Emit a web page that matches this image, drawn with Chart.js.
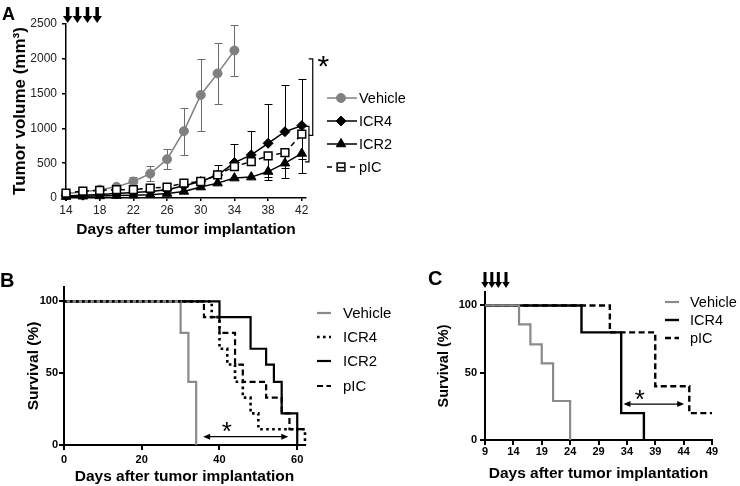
<!DOCTYPE html>
<html>
<head>
<meta charset="utf-8">
<script src="https://cdn.jsdelivr.net/npm/chart.js@4.4.0/dist/chart.umd.min.js"></script>
<style>
  html, body { margin: 0; padding: 0; background: #fff; }
  body { width: 740px; height: 486px; position: relative; overflow: hidden; }
  canvas { position: absolute; }
  #chartA { left: 0; top: 0; width: 420px; height: 240px; }
  #chartB { left: 0; top: 250px; width: 420px; height: 236px; }
  #chartC { left: 420px; top: 250px; width: 320px; height: 236px; }
</style>
</head>
<body>
<canvas id="chartA" width="420" height="240"></canvas>
<canvas id="chartB" width="420" height="236"></canvas>
<canvas id="chartC" width="320" height="236"></canvas>
<script>
// ---- panel A: tumour volume ----
const daysA = [14, 16, 18, 20, 22, 24, 26, 28, 30, 32, 34, 36, 38, 40, 42];
const dayTicksA = [14, 18, 22, 26, 30, 34, 38, 42];
const volTicksA = [0, 500, 1000, 1500, 2000, 2500];
const vehicleVol = [60, 90, 120, 160, 237, 350, 557, 960, 1480, 1790, 2120];
const vehicleSD = [10, 15, 20, 20, 70, 110, 145, 340, 520, 440, 370];
const icr4Vol = [30, 40, 50, 65, 80, 95, 119, 176, 237, 330, 509, 619, 786, 952, 1040];
const icr4Upper = [null, null, null, null, null, null, null, null, 270, 470, 780, 960, 1350, 1620, 1710];
const icr2Vol = [20, 25, 30, 35, 40, 45, 64, 95, 157, 214, 286, 300, 380, 500, 640];
const icr2Lower = [null, null, null, null, null, null, null, null, null, null, null, null, 261, 290, 357];
const picVol = [70, 100, 110, 120, 120, 140, 157, 214, 237, 333, 452, 524, 604, 652, 918];
const picLower = [null, null, null, null, null, null, null, null, null, null, null, null, 300, 430, 560];
const dosingA = [14.2, 15.35, 16.55, 17.7];

// ---- panel B: survival ----
const dayTicksB = [0, 20, 40, 60];
const survTicks = [0, 50, 100];
const vehicleTimesB = [0, 30, 32, 34];
const vehicleSurvB = [100, 78, 44, 0];
const icr4TimesB = [0, 38, 40, 42, 44, 46, 48, 50, 62];
const icr4SurvB = [100, 89, 67, 56, 44, 33, 22, 11, 0];
const icr2TimesB = [0, 40, 48, 52, 54, 56, 60];
const icr2SurvB = [100, 89, 67, 56, 44, 22, 0];
const picTimesB = [0, 36, 40, 44, 46, 52, 56, 58, 62];
const picSurvB = [100, 89, 78, 56, 44, 33, 22, 11, 11];

// ---- panel C: survival ----
const dayTicksC = [9, 14, 19, 24, 29, 34, 39, 44, 49];
const vehicleTimesC = [9, 15, 17, 19, 21, 24];
const vehicleSurvC = [100, 86, 71, 57, 29, 0];
const icr4TimesC = [9, 26, 33, 37];
const icr4SurvC = [100, 80, 20, 0];
const picTimesC = [9, 31, 39, 45, 49];
const picSurvC = [100, 80, 40, 20, 20];
const dosingC = [9, 10.2, 11.35, 12.7];

const FONT = '"Liberation Sans", Arial, sans-serif';
const GREY = '#8a8a8a';
Chart.defaults.font.family = FONT;
Chart.defaults.color = '#000';
Chart.defaults.animation = false;

const fixWidth = w => scale => { scale.width = w; };
const fixHeight = h => scale => { scale.height = h; };
const useTicks = values => scale => { scale.ticks = values.map(v => ({ value: v })); };
const plain = v => String(v);
const points = (xs, ys) => ys.map((y, i) => ({ x: xs[i], y: y }));

function downArrow(ctx, x, top, tip, shaftW, headW, headH) {
    ctx.fillRect(x - shaftW / 2, top, shaftW, tip - headH - top + 0.5);
    ctx.beginPath();
    ctx.moveTo(x - headW / 2, tip - headH);
    ctx.lineTo(x + headW / 2, tip - headH);
    ctx.lineTo(x, tip);
    ctx.closePath();
    ctx.fill();
}

function doubleArrow(ctx, x1, x2, y) {
    const len = 7, half = 3;
    ctx.lineWidth = 1.3;
    ctx.beginPath();
    ctx.moveTo(x1 + 3, y);
    ctx.lineTo(x2 - 3, y);
    ctx.stroke();
    ctx.beginPath();
    ctx.moveTo(x1, y); ctx.lineTo(x1 + len, y - half); ctx.lineTo(x1 + len, y + half); ctx.closePath();
    ctx.moveTo(x2, y); ctx.lineTo(x2 - len, y - half); ctx.lineTo(x2 - len, y + half); ctx.closePath();
    ctx.fill();
}

function star(ctx, x, y, size) {
    ctx.font = size + 'px ' + FONT;
    ctx.textAlign = 'center';
    ctx.textBaseline = 'alphabetic';
    const m = ctx.measureText('*');
    ctx.fillText('*', x, y + (m.actualBoundingBoxAscent - m.actualBoundingBoxDescent) / 2);
}

function letter(ctx, text, x, y, size) {
    ctx.font = 'bold ' + size + 'px ' + FONT;
    ctx.textAlign = 'left';
    ctx.textBaseline = 'alphabetic';
    ctx.fillText(text, x, y);
}

function drawLegend(ctx, items, cfg) {
    items.forEach((it, i) => {
        const y = cfg.ys[i];
        ctx.save();
        ctx.strokeStyle = it.color;
        ctx.lineWidth = it.width;
        ctx.setLineDash(it.dash || []);
        ctx.beginPath();
        ctx.moveTo(cfg.x0, y);
        ctx.lineTo(cfg.x1, y);
        ctx.stroke();
        ctx.setLineDash([]);
        if (it.marker) {
            const mx = (cfg.x0 + cfg.x1) / 2 - 1;
            ctx.fillStyle = it.fill;
            ctx.strokeStyle = it.color;
            ctx.lineWidth = it.bw;
            Chart.helpers.drawPoint(ctx, { pointStyle: it.marker, radius: it.radius, rotation: 0, borderWidth: it.bw }, mx, y);
            if (it.marker === 'rect') {
                ctx.beginPath();
                ctx.moveTo(mx - 3, y + 0.5);
                ctx.lineTo(mx + 3, y + 0.5);
                ctx.stroke();
            }
        }
        ctx.fillStyle = '#000';
        ctx.font = cfg.font;
        ctx.textAlign = 'left';
        ctx.textBaseline = 'middle';
        ctx.fillText(it.label, cfg.tx, y + 1);
        ctx.restore();
    });
}

// error bars drawn under the markers
const errorBars = {
    id: 'errorBars',
    beforeDatasetsDraw(chart) {
        const ctx = chart.ctx;
        const yScale = chart.scales.y;
        chart.data.datasets.forEach((ds, i) => {
            if (!ds.errHigh && !ds.errLow) return;
            const meta = chart.getDatasetMeta(i);
            ctx.save();
            ctx.strokeStyle = ds.errColor;
            ctx.lineWidth = 1;
            meta.data.forEach((pt, j) => {
                [ds.errHigh, ds.errLow].forEach(arr => {
                    if (!arr || arr[j] == null) return;
                    const x = Math.round(pt.x) + 0.5;
                    const yy = Math.round(yScale.getPixelForValue(arr[j])) + 0.5;
                    ctx.beginPath();
                    ctx.moveTo(x, pt.y);
                    ctx.lineTo(x, yy);
                    ctx.moveTo(x - 4, yy);
                    ctx.lineTo(x + 4, yy);
                    ctx.stroke();
                });
            });
            ctx.restore();
        });
    }
};

function axisStyle(tickLen, borderW) {
    return {
        grid: { drawOnChartArea: false, drawTicks: true, tickLength: tickLen, color: '#000', lineWidth: borderW },
        border: { display: true, color: '#000', width: borderW }
    };
}

// ---------- A ----------
const annotA = {
    id: 'annotA',
    afterDraw(chart) {
        const { ctx, chartArea } = chart;
        const x = chart.scales.x, y = chart.scales.y;
        ctx.save();
        ctx.fillStyle = '#000';
        dosingA.forEach(d => downArrow(ctx, x.getPixelForValue(d), 7, chartArea.top - 1, 3.5, 9.5, 7));
        ctx.strokeStyle = '#000';
        ctx.lineWidth = 1.2;
        [[43.3, 2000, 900], [42.85, 1030, 520]].forEach(b => {
            const bx = x.getPixelForValue(b[0]);
            ctx.beginPath();
            ctx.moveTo(bx - 4, y.getPixelForValue(b[1]));
            ctx.lineTo(bx, y.getPixelForValue(b[1]));
            ctx.lineTo(bx, y.getPixelForValue(b[2]));
            ctx.lineTo(bx - 4, y.getPixelForValue(b[2]));
            ctx.stroke();
        });
        star(ctx, x.getPixelForValue(44.55), y.getPixelForValue(1960), 30);
        letter(ctx, 'A', 2, 20, 18);
        drawLegend(ctx, [
            { label: 'Vehicle', color: '#808080', width: 1.5, marker: 'circle', fill: '#808080', radius: 4.5, bw: 1 },
            { label: 'ICR4', color: '#000', width: 1.5, marker: 'rectRot', fill: '#000', radius: 5, bw: 1 },
            { label: 'ICR2', color: '#000', width: 1.5, marker: 'triangle', fill: '#000', radius: 5.5, bw: 1 },
            { label: 'pIC', color: '#000', width: 1.5, dash: [5, 18], marker: 'rect', fill: '#fff', radius: 5.5, bw: 1.5 }
        ], { x0: 327, x1: 357, tx: 359, ys: [98, 121, 144, 167], font: '14.5px ' + FONT });
        ctx.restore();
    }
};

new Chart(document.getElementById('chartA'), {
    type: 'line',
    data: {
        datasets: [{
            label: 'Vehicle',
            data: points(daysA, vehicleVol),
            borderColor: '#808080', backgroundColor: '#808080', borderWidth: 1.5,
            pointStyle: 'circle', pointRadius: 4.5, pointBorderWidth: 1,
            errHigh: vehicleVol.map((v, i) => v + vehicleSD[i]),
            errLow: vehicleVol.map((v, i) => v - vehicleSD[i]),
            errColor: '#6a6a6a', order: 4, clip: false
        }, {
            label: 'ICR4',
            data: points(daysA, icr4Vol),
            borderColor: '#000', backgroundColor: '#000', borderWidth: 1.5,
            pointStyle: 'rectRot', pointRadius: 5, pointBorderWidth: 1,
            errHigh: icr4Upper, errColor: '#000', order: 2, clip: false
        }, {
            label: 'ICR2',
            data: points(daysA, icr2Vol),
            borderColor: '#000', backgroundColor: '#000', borderWidth: 1.5,
            pointStyle: 'triangle', pointRadius: 5.5, pointBorderWidth: 1,
            errLow: icr2Lower, errColor: '#000', order: 3, clip: false
        }, {
            label: 'pIC',
            data: points(daysA, picVol),
            borderColor: '#000', backgroundColor: '#fff', borderWidth: 1.5, borderDash: [5, 4],
            pointStyle: 'rect', pointRadius: 5.5, pointBorderWidth: 1.5,
            errLow: picLower, errColor: '#000', order: 1, clip: false
        }]
    },
    options: {
        responsive: false,
        layout: { padding: { left: 4, top: 24, right: 114, bottom: 0 } },
        plugins: { legend: { display: false }, tooltip: { enabled: false } },
        scales: {
            x: {
                type: 'linear', min: 14, max: 42.5,
                afterBuildTicks: useTicks(dayTicksA), afterFit: fixHeight(42),
                ticks: { font: { size: 12 }, color: '#222', padding: 2, maxRotation: 0, callback: plain },
                title: { display: true, text: 'Days after tumor implantation', font: { size: 15.5, weight: 'bold' }, padding: { top: 0, bottom: 1 } },
                ...axisStyle(3, 1.5)
            },
            y: {
                min: 0, max: 2500,
                afterBuildTicks: useTicks(volTicksA), afterFit: fixWidth(62),
                ticks: { font: { size: 12 }, color: '#222', padding: 5, callback: plain },
                title: { display: true, text: 'Tumor volume (mm³)', font: { size: 17, weight: 'bold' }, padding: { top: 6, bottom: 0 } },
                ...axisStyle(4, 1.5)
            }
        }
    },
    plugins: [errorBars, annotA]
});

// ---------- B ----------
const annotB = {
    id: 'annotB',
    afterDraw(chart) {
        const ctx = chart.ctx;
        const x = chart.scales.x, y = chart.scales.y;
        ctx.save();
        ctx.fillStyle = '#000';
        ctx.strokeStyle = '#000';
        doubleArrow(ctx, x.getPixelForValue(35.8), x.getPixelForValue(57.7), y.getPixelForValue(5.8));
        star(ctx, x.getPixelForValue(41.9), y.getPixelForValue(12.8), 26);
        letter(ctx, 'B', 0, 37, 20);
        drawLegend(ctx, [
            { label: 'Vehicle', color: GREY, width: 2.2 },
            { label: 'ICR4', color: '#000', width: 2.6, dash: [2.6, 3.4] },
            { label: 'ICR2', color: '#000', width: 2.2 },
            { label: 'pIC', color: '#000', width: 2.2, dash: [6, 3.5] }
        ], { x0: 317, x1: 331, tx: 343, ys: [63, 87, 111, 136], font: '15px ' + FONT });
        ctx.restore();
    }
};

new Chart(document.getElementById('chartB'), {
    type: 'line',
    data: {
        datasets: [{
            label: 'Vehicle', data: points(vehicleTimesB, vehicleSurvB),
            borderColor: GREY, borderWidth: 2.2, order: 2
        }, {
            label: 'ICR4', data: points(icr4TimesB, icr4SurvB),
            borderColor: '#000', borderWidth: 2.6, borderDash: [2.6, 3.4], order: 1
        }, {
            label: 'ICR2', data: points(icr2TimesB, icr2SurvB),
            borderColor: '#000', borderWidth: 2.2, order: 4
        }, {
            label: 'pIC', data: points(picTimesB, picSurvB),
            borderColor: '#000', borderWidth: 2.2, borderDash: [6, 3.5], order: 3
        }]
    },
    options: {
        responsive: false,
        datasets: { line: { stepped: true, pointRadius: 0, fill: false, clip: false, borderJoinStyle: 'miter' } },
        layout: { padding: { left: 20, top: 37, right: 115, bottom: 0 } },
        plugins: { legend: { display: false }, tooltip: { enabled: false } },
        scales: {
            x: {
                type: 'linear', min: 0, max: 62,
                afterBuildTicks: useTicks(dayTicksB), afterFit: fixHeight(41),
                ticks: { font: { size: 11, weight: 'bold' }, padding: 3, maxRotation: 0, callback: plain },
                title: { display: true, text: 'Days after tumor implantation', font: { size: 15.5, weight: 'bold' }, padding: { top: 0, bottom: 0 } },
                ...axisStyle(5, 2)
            },
            y: {
                min: 0, max: 110,
                afterBuildTicks: useTicks(survTicks), afterFit: fixWidth(44),
                ticks: { font: { size: 11, weight: 'bold' }, padding: 1, callback: plain },
                title: { display: true, text: 'Survival (%)', font: { size: 15.5, weight: 'bold' }, padding: { top: 4, bottom: 0 } },
                ...axisStyle(5, 2)
            }
        }
    },
    plugins: [annotB]
});

// ---------- C ----------
const annotC = {
    id: 'annotC',
    afterDraw(chart) {
        const { ctx, chartArea } = chart;
        const x = chart.scales.x, y = chart.scales.y;
        ctx.save();
        ctx.fillStyle = '#000';
        ctx.strokeStyle = '#000';
        dosingC.forEach(d => downArrow(ctx, x.getPixelForValue(d), 22, chartArea.top - 4, 3, 7.5, 6));
        doubleArrow(ctx, x.getPixelForValue(33.4), x.getPixelForValue(44.1), y.getPixelForValue(26.7));
        star(ctx, x.getPixelForValue(36.3), y.getPixelForValue(33.5), 26);
        letter(ctx, 'C', 8, 35, 20);
        drawLegend(ctx, [
            { label: 'Vehicle', color: GREY, width: 2.2 },
            { label: 'ICR4', color: '#000', width: 2.4 },
            { label: 'pIC', color: '#000', width: 2.4, dash: [6, 3.5] }
        ], { x0: 245, x1: 259, tx: 270, ys: [52, 70, 88], font: '14.5px ' + FONT });
        ctx.restore();
    }
};

new Chart(document.getElementById('chartC'), {
    type: 'line',
    data: {
        datasets: [{
            label: 'Vehicle', data: points(vehicleTimesC, vehicleSurvC),
            borderColor: GREY, borderWidth: 2.2, order: 1
        }, {
            label: 'ICR4', data: points(icr4TimesC, icr4SurvC),
            borderColor: '#000', borderWidth: 2.4, order: 2
        }, {
            label: 'pIC', data: points(picTimesC, picSurvC),
            borderColor: '#000', borderWidth: 2.4, borderDash: [6, 3.5], order: 3
        }]
    },
    options: {
        responsive: false,
        datasets: { line: { stepped: true, pointRadius: 0, fill: false, clip: false, borderJoinStyle: 'miter' } },
        layout: { padding: { left: 10, top: 42, right: 28, bottom: 0 } },
        plugins: { legend: { display: false }, tooltip: { enabled: false } },
        scales: {
            x: {
                type: 'linear', min: 9, max: 49,
                afterBuildTicks: useTicks(dayTicksC), afterFit: fixHeight(46),
                ticks: { font: { size: 11, weight: 'bold' }, padding: 0, maxRotation: 0, autoSkip: false, callback: plain },
                title: { display: true, text: 'Days after tumor implantation', font: { size: 15.5, weight: 'bold' }, padding: { top: 0, bottom: 3 } },
                ...axisStyle(5, 2)
            },
            y: {
                min: 0, max: 110,
                afterBuildTicks: useTicks(survTicks), afterFit: fixWidth(55),
                ticks: { font: { size: 11, weight: 'bold' }, padding: 3, callback: plain },
                title: { display: true, text: 'Survival (%)', font: { size: 14.5, weight: 'bold' }, padding: { top: 5, bottom: 0 } },
                ...axisStyle(5, 2)
            }
        }
    },
    plugins: [annotC]
});
</script>
</body>
</html>
